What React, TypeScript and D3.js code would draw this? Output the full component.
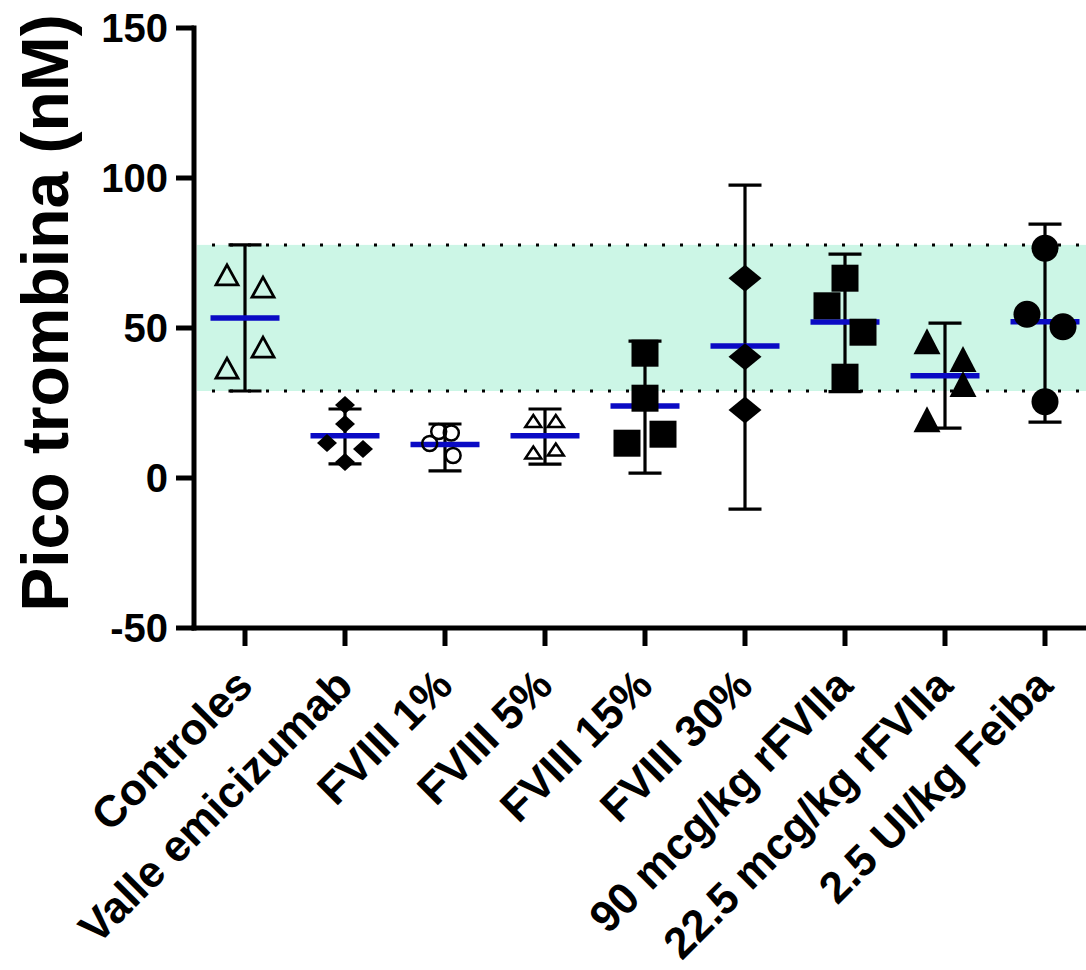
import React from "react";
import * as d3 from "d3";

const CATEGORIES = [
  "Controles",
  "Valle emicizumab",
  "FVIII 1%",
  "FVIII 5%",
  "FVIII 15%",
  "FVIII 30%",
  "90 mcg/kg rFVIIa",
  "22.5 mcg/kg rFVIIa",
  "2.5 UI/kg Feiba",
];

const POINT_VALUES = [
  [67.7, 63.6, 43.6, 36.6],
  [24.3, 18, 11.7, 9.7, 5.3],
  [15.5, 15, 11.5, 7.5],
  [19, 19, 8.5, 9.5],
  [41.6, 26.6, 11.6, 14.6],
  [66.6, 40.4, 22.7],
  [66.6, 57.4, 48.6, 33.6],
  [45.6, 39.7, 31.3, 19.6],
  [76.6, 54.6, 50.4, 25.4],
];

// side-by-side slot of each point within its column (-1 left, 0 centre, +1 right)
const POINT_SLOTS = [
  [-1, 1, 1, -1],
  [0, 0, -1, 1, 0],
  [-0.35, 0.35, -0.85, 0.45],
  [-0.65, 0.6, -0.65, 0.6],
  [0, 0, -1, 1],
  [0, 0, 0],
  [0, -1, 1, 0],
  [-1, 1, 1, -1],
  [0, -1, 1, 0],
];

const MEANS = [53.3, 14.1, 11.2, 14.1, 24, 44, 52, 34.1, 52.1];
const ERR_LOW = [29, 4.7, 2.4, 4.6, 1.6, -10.4, 28.8, 16.6, 18.6];
const ERR_HIGH = [77.7, 23, 18, 23, 45.6, 97.6, 74.6, 51.6, 84.6];
const REF_RANGE = [29, 77.7];
const Y_TICKS = [-50, 0, 50, 100, 150];
const Y_TITLE = "Pico trombina (nM)";

// marker styles per column
const MARKERS = [
  { shape: "triangle", w: 22, h: 20, filled: false, sw: 2.8 },
  { shape: "diamond", w: 20, h: 18, filled: true, sw: 0 },
  { shape: "circle", w: 15, h: 15, filled: false, sw: 2.5 },
  { shape: "triangle", w: 16, h: 12, filled: false, sw: 2.5 },
  { shape: "square", w: 27, h: 27, filled: true, sw: 0 },
  { shape: "diamond", w: 33, h: 27, filled: true, sw: 0 },
  { shape: "square", w: 27, h: 27, filled: true, sw: 0 },
  { shape: "triangle", w: 27, h: 26, filled: true, sw: 0 },
  { shape: "circle", w: 27, h: 27, filled: true, sw: 0 },
];

const FONT = "'Liberation Sans', Arial, Helvetica, sans-serif";
const W = 1086;
const H = 970;
const SLOT_PX = 18;

function markerPath(shape: string, w: number, h: number) {
  if (shape === "triangle") {
    return `M0,${-h / 2}L${w / 2},${h / 2}L${-w / 2},${h / 2}Z`;
  }
  if (shape === "diamond") {
    return `M0,${-h / 2}L${w / 2},0L0,${h / 2}L${-w / 2},0Z`;
  }
  if (shape === "square") {
    return `M${-w / 2},${-h / 2}H${w / 2}V${h / 2}H${-w / 2}Z`;
  }
  const r = w / 2;
  return `M${-r},0A${r},${r} 0 1,0 ${r},0A${r},${r} 0 1,0 ${-r},0Z`;
}

export default function App() {
  const x = d3.scaleLinear().domain([-0.5, 8.5]).range([195, 1095]);
  const y = d3.scaleLinear().domain([-50, 150]).range([628, 28]);
  const axisX = 194;
  const capHalf = 16.5;
  const meanHalf = 34.5;

  return (
    <svg
      width={W}
      height={H}
      style={{ position: "absolute", left: 0, top: 0, display: "block", background: "#fff" }}
      fontFamily={FONT}
    >
      {/* reference band */}
      <rect
        x={axisX + 3}
        y={y(REF_RANGE[1])}
        width={W - axisX}
        height={y(REF_RANGE[0]) - y(REF_RANGE[1])}
        fill="#ccf6e6"
      />
      {REF_RANGE.map((v, i) => (
        <line
          key={"ref" + i}
          x1={212}
          x2={W + 10}
          y1={y(v)}
          y2={y(v)}
          stroke="#000"
          strokeWidth={3}
          strokeDasharray="3 15"
        />
      ))}

      {/* error bars */}
      {CATEGORIES.map((c, i) => {
        const cx = x(i);
        return (
          <g key={"err" + i} stroke="#000" strokeWidth={3.2}>
            <line x1={cx} x2={cx} y1={y(ERR_HIGH[i])} y2={y(ERR_LOW[i])} />
            <line x1={cx - capHalf} x2={cx + capHalf} y1={y(ERR_HIGH[i])} y2={y(ERR_HIGH[i])} />
            <line x1={cx - capHalf} x2={cx + capHalf} y1={y(ERR_LOW[i])} y2={y(ERR_LOW[i])} />
          </g>
        );
      })}

      {/* means */}
      {MEANS.map((m, i) => (
        <line
          key={"mean" + i}
          x1={x(i) - meanHalf}
          x2={x(i) + meanHalf}
          y1={y(m)}
          y2={y(m)}
          stroke="#0a0ac4"
          strokeWidth={5.5}
        />
      ))}

      {/* points */}
      {POINT_VALUES.map((vals, i) => {
        const mk = MARKERS[i];
        const d = markerPath(mk.shape, mk.w, mk.h);
        return (
          <g key={"pts" + i}>
            {vals.map((v, j) => (
              <path
                key={j}
                d={d}
                transform={`translate(${x(i) + POINT_SLOTS[i][j] * SLOT_PX},${y(v)})`}
                fill={mk.filled ? "#000" : "none"}
                stroke="#000"
                strokeWidth={mk.filled ? 0 : mk.sw}
                strokeLinejoin="miter"
              />
            ))}
          </g>
        );
      })}

      {/* y axis */}
      <line x1={axisX} x2={axisX} y1={25.5} y2={630.5} stroke="#000" strokeWidth={5} />
      {Y_TICKS.map((t) => (
        <g key={"yt" + t}>
          <line x1={176} x2={axisX} y1={y(t)} y2={y(t)} stroke="#000" strokeWidth={5} />
          <text
            x={168}
            y={y(t) + 14}
            textAnchor="end"
            fontSize={40}
            fontWeight="bold"
            fill="#000"
          >
            {t}
          </text>
        </g>
      ))}
      <text
        transform={`translate(68,${(y(150) + y(-50)) / 2 - 15}) rotate(-90)`}
        textAnchor="middle"
        fontSize={66}
        fontWeight="bold"
        fill="#000"
      >
        {Y_TITLE}
      </text>

      {/* x axis */}
      <line x1={axisX - 2.5} x2={W + 10} y1={628} y2={628} stroke="#000" strokeWidth={5} />
      {CATEGORIES.map((c, i) => (
        <g key={"xt" + i}>
          <line x1={x(i)} x2={x(i)} y1={628} y2={646} stroke="#000" strokeWidth={5} />
          <text
            transform={`translate(${x(i) + 10},688) rotate(-45)`}
            textAnchor="end"
            fontSize={44}
            fontWeight="bold"
            fill="#000"
          >
            {c}
          </text>
        </g>
      ))}
    </svg>
  );
}
